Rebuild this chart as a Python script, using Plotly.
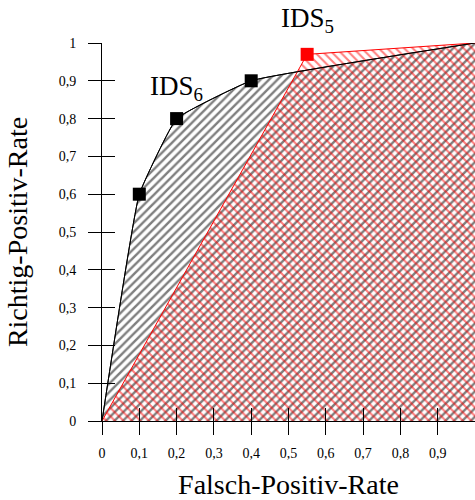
import plotly.graph_objects as go

# ROC operating points
ids6_fpr = [0.0, 0.1, 0.2, 0.4, 1.0]
ids6_tpr = [0.0, 0.6, 0.8, 0.9, 1.0]
ids6_marked_fpr = [0.1, 0.2, 0.4]
ids6_marked_tpr = [0.6, 0.8, 0.9]

ids5_fpr = [0.0, 0.55, 1.0]
ids5_tpr = [0.0, 0.97, 1.0]
ids5_marked_fpr = [0.55]
ids5_marked_tpr = [0.97]

tick_vals_x = [0, 0.1, 0.2, 0.3, 0.4, 0.5, 0.6, 0.7, 0.8, 0.9]
tick_vals_y = [0, 0.1, 0.2, 0.3, 0.4, 0.5, 0.6, 0.7, 0.8, 0.9, 1]

SERIF = "Liberation Serif, Times New Roman, serif"
SMOOTH = 0.3

fig = go.Figure()

# area under the IDS6 curve, single hatching
fig.add_trace(go.Scatter(
    x=ids6_fpr, y=ids6_tpr, mode="lines",
    line=dict(color="black", width=1, shape="spline", smoothing=SMOOTH),
    fill="tozeroy", fillcolor="rgba(0,0,0,0)",
    fillpattern=dict(shape="/", fgcolor="black", bgcolor="rgba(0,0,0,0)", size=6, solidity=0.4),
    hoverinfo="skip", showlegend=False,
))

# area under the IDS5 curve, red counter hatching
fig.add_trace(go.Scatter(
    x=ids5_fpr + [ids5_fpr[-1]], y=ids5_tpr + [0.0], mode="lines", line=dict(width=0),
    fill="toself", fillcolor="rgba(0,0,0,0)",
    fillpattern=dict(shape="\\", fgcolor="red", bgcolor="rgba(0,0,0,0)", size=6, solidity=0.35),
    hoverinfo="skip", showlegend=False,
))

# curve outlines
fig.add_trace(go.Scatter(
    x=ids5_fpr, y=ids5_tpr, mode="lines", line=dict(color="red", width=1),
    hoverinfo="skip", showlegend=False,
))
fig.add_trace(go.Scatter(
    x=ids6_fpr, y=ids6_tpr, mode="lines",
    line=dict(color="black", width=1, shape="spline", smoothing=SMOOTH),
    hoverinfo="skip", showlegend=False,
))

# operating point markers
fig.add_trace(go.Scatter(
    x=ids6_marked_fpr, y=ids6_marked_tpr, mode="markers",
    marker=dict(symbol="square", size=13, color="black", line=dict(width=0)),
    showlegend=False,
))
fig.add_trace(go.Scatter(
    x=ids5_marked_fpr, y=ids5_marked_tpr, mode="markers",
    marker=dict(symbol="square", size=13, color="red", line=dict(width=0)),
    showlegend=False,
))

# helper trace so the inner-tick axes get drawn
fig.add_trace(go.Scatter(x=[None], y=[None], xaxis="x2", yaxis="y2",
                         showlegend=False, hoverinfo="skip"))

fig.add_annotation(x=0.2, y=0.88, text="IDS<sub>6</sub>", showarrow=False,
                   xanchor="center", yanchor="middle",
                   font=dict(family=SERIF, size=27, color="black"))
fig.add_annotation(x=0.55, xref="x", y=1.06, yref="paper", text="IDS<sub>5</sub>", showarrow=False,
                   xanchor="center", yanchor="middle",
                   font=dict(family=SERIF, size=27, color="black"))

axis_common = dict(showgrid=False, zeroline=False)

fig.update_layout(
    width=475, height=500,
    margin=dict(l=102, r=0, t=43, b=79),
    paper_bgcolor="white", plot_bgcolor="white",
    separators=",.",
    font=dict(family=SERIF, color="black"),
    xaxis=dict(
        **axis_common, range=[0, 1], tickmode="array", tickvals=tick_vals_x,
        ticks="outside", ticklen=13, tickwidth=1, tickcolor="black",
        showline=True, linecolor="black", linewidth=1,
        tickfont=dict(family=SERIF, size=14, color="black"), ticklabelstandoff=6,
        title=dict(text="Falsch-Positiv-Rate", font=dict(family=SERIF, size=28, color="black"), standoff=14),
    ),
    yaxis=dict(
        **axis_common, range=[0, 1], tickmode="array", tickvals=tick_vals_y,
        ticks="outside", ticklen=13, tickwidth=1, tickcolor="black",
        showline=True, linecolor="black", linewidth=1,
        tickfont=dict(family=SERIF, size=14, color="black"), ticklabelstandoff=9,
        title=dict(text="Richtig-Positiv-Rate", font=dict(family=SERIF, size=28, color="black"), standoff=22),
    ),
    xaxis2=dict(
        **axis_common, range=[0, 1], overlaying="x", anchor="y2", tickmode="array", tickvals=tick_vals_x,
        ticks="inside", ticklen=13, tickwidth=1, tickcolor="black", showticklabels=False, showline=False,
    ),
    yaxis2=dict(
        **axis_common, range=[0, 1], overlaying="y", anchor="x2", tickmode="array", tickvals=tick_vals_y,
        ticks="inside", ticklen=13, tickwidth=1, tickcolor="black", showticklabels=False, showline=False,
    ),
)

fig.write_html("out.html")
